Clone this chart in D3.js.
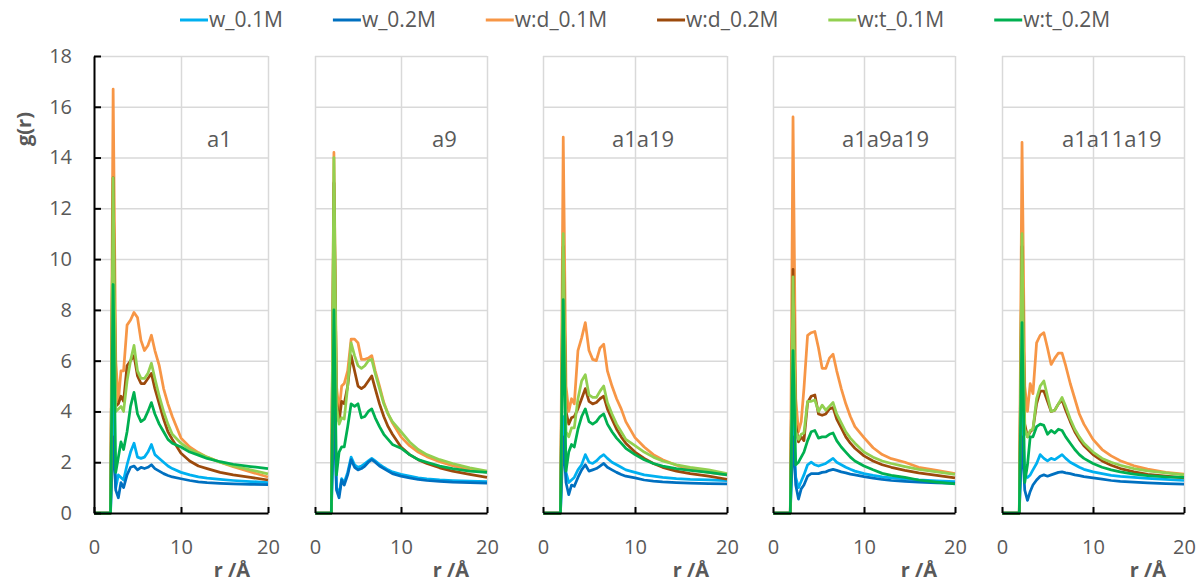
<!DOCTYPE html>
<html>
<head>
<meta charset="utf-8">
<script src="https://cdn.jsdelivr.net/npm/d3@7/dist/d3.min.js"></script>
<style>
  body { margin: 0; background: #fff; }
  text { font-family: "Open Sans", sans-serif; fill: #595959; }
</style>
</head>
<body>
<svg id="chart" width="1198" height="584"></svg>
<script>
// r grid shared by every curve (Å)
const rValues = [0, 1.9, 2.2, 2.5, 2.8, 3.1, 3.4, 3.8, 4.2, 4.6, 5.0, 5.4, 5.8, 6.2, 6.6, 7.0, 7.5, 8.0, 8.5, 9.0, 10, 11, 12, 13, 14.5, 16, 18, 20];

const panelNames = ["a1", "a9", "a1a19", "a1a9a19", "a1a11a19"];
const seriesNames = ["w_0.1M", "w_0.2M", "w:d_0.1M", "w:d_0.2M", "w:t_0.1M", "w:t_0.2M"];
const yTicks = [0, 2, 4, 6, 8, 10, 12, 14, 16, 18];
const xTicks = [0, 10, 20];

// g(r), one row per panel (a1, a9, a1a19, a1a9a19, a1a11a19)
const w01 = [
  [0, 0, 5.0, 1.0, 1.5, 1.4, 1.3, 1.9, 2.4, 2.75, 2.2, 2.15, 2.2, 2.4, 2.7, 2.3, 2.15, 2.0, 1.85, 1.75, 1.6, 1.5, 1.42, 1.37, 1.32, 1.28, 1.24, 1.2],
  [0, 0, 5.5, 1.0, 0.75, 1.35, 1.2, 1.6, 2.2, 1.9, 1.8, 1.85, 1.95, 2.05, 2.15, 2.05, 1.92, 1.8, 1.7, 1.62, 1.52, 1.45, 1.38, 1.34, 1.3, 1.28, 1.26, 1.24],
  [0, 0, 3.8, 1.6, 1.2, 1.3, 1.4, 1.7, 1.9, 2.3, 2.0, 1.95, 2.05, 2.2, 2.3, 2.15, 2.0, 1.9, 1.8, 1.7, 1.6, 1.5, 1.45, 1.4, 1.35, 1.32, 1.3, 1.28],
  [0, 0, 4.0, 1.4, 1.0, 1.25, 1.5, 1.9, 2.0, 1.9, 1.85, 1.9, 1.95, 2.05, 2.15, 2.0, 1.9, 1.8, 1.72, 1.65, 1.55, 1.48, 1.42, 1.38, 1.34, 1.3, 1.27, 1.24],
  [0, 0, 4.0, 1.5, 1.4, 1.5, 1.7, 1.95, 2.3, 2.15, 2.05, 2.15, 2.1, 2.2, 2.3, 2.15, 2.0, 1.9, 1.8, 1.72, 1.62, 1.55, 1.48, 1.44, 1.4, 1.36, 1.32, 1.28]
];
const w02 = [
  [0, 0, 3.0, 0.9, 0.6, 1.2, 1.0, 1.5, 1.8, 1.85, 1.7, 1.8, 1.75, 1.8, 1.9, 1.75, 1.65, 1.55, 1.48, 1.42, 1.35, 1.28, 1.23, 1.2, 1.17, 1.15, 1.13, 1.12],
  [0, 0, 4.0, 0.9, 0.6, 1.3, 1.1, 1.5, 2.1, 1.8, 1.7, 1.75, 1.85, 2.0, 2.1, 2.0, 1.85, 1.75, 1.65, 1.55, 1.45, 1.38, 1.32, 1.28, 1.25, 1.22, 1.2, 1.18],
  [0, 0, 3.0, 1.2, 0.72, 1.1, 1.05, 1.4, 1.7, 1.9, 1.65, 1.7, 1.75, 1.85, 1.95, 1.8, 1.7, 1.6, 1.52, 1.45, 1.38, 1.3, 1.26, 1.23, 1.2, 1.18, 1.16, 1.15],
  [0, 0, 3.0, 1.1, 0.55, 0.95, 1.1, 1.45, 1.55, 1.55, 1.55, 1.6, 1.62, 1.68, 1.72, 1.68, 1.62, 1.58, 1.53, 1.5, 1.43, 1.37, 1.32, 1.28, 1.25, 1.22, 1.19, 1.17],
  [0, 0, 3.0, 0.9, 0.5, 0.85, 1.1, 1.3, 1.45, 1.5, 1.45, 1.5, 1.55, 1.6, 1.62, 1.58, 1.55, 1.5, 1.47, 1.43, 1.38, 1.33, 1.28, 1.25, 1.22, 1.19, 1.16, 1.14]
];
const wd01 = [
  [0, 0, 16.7, 6.0, 4.4, 5.6, 5.6, 7.4, 7.6, 7.9, 7.7, 6.8, 6.4, 6.6, 7.0, 6.4, 5.8, 4.9, 4.3, 3.8, 2.95, 2.6, 2.38, 2.2, 2.0, 1.82, 1.62, 1.42],
  [0, 0, 14.2, 5.0, 4.0, 5.0, 5.1, 5.6, 6.85, 6.85, 6.7, 6.05, 6.05, 6.1, 6.2, 5.6, 5.0, 4.35, 3.9, 3.55, 3.0, 2.65, 2.4, 2.22, 2.02, 1.86, 1.72, 1.6],
  [0, 0, 14.8, 5.0, 4.0, 4.5, 4.3, 6.4, 6.9, 7.5, 6.4, 6.05, 6.0, 6.5, 6.65, 5.6, 5.0, 4.5, 4.1, 3.6, 2.97, 2.6, 2.3, 2.1, 1.88, 1.72, 1.6, 1.5],
  [0, 0, 15.6, 4.5, 3.2, 3.6, 4.9, 7.0, 7.1, 7.15, 6.5, 5.7, 5.7, 6.1, 6.25, 5.6, 4.9, 4.3, 3.8, 3.4, 2.97, 2.57, 2.3, 2.14, 2.0, 1.8, 1.68, 1.55],
  [0, 0, 14.6, 5.0, 4.0, 5.1, 4.7, 6.7, 7.0, 7.1, 6.5, 5.85, 6.1, 6.3, 6.3, 5.8, 5.1, 4.5, 3.9, 3.5, 2.9, 2.5, 2.25, 2.06, 1.86, 1.73, 1.6, 1.53]
];
const wd02 = [
  [0, 0, 13.2, 4.2, 4.3, 4.6, 4.4, 5.8, 6.0, 6.2, 5.4, 5.1, 5.1, 5.3, 5.5, 4.9, 4.3, 3.7, 3.2, 2.9, 2.35, 2.05, 1.85, 1.75, 1.6, 1.5, 1.4, 1.3],
  [0, 0, 13.0, 4.4, 3.6, 4.4, 4.3, 5.0, 6.2, 5.6, 5.0, 4.9, 5.0, 5.2, 5.4, 4.9, 4.3, 3.8, 3.4, 3.1, 2.6, 2.3, 2.1, 1.95, 1.78, 1.65, 1.52, 1.4],
  [0, 0, 10.5, 4.0, 3.5, 3.75, 3.8, 4.1, 4.5, 4.9, 4.4, 4.3, 4.35, 4.5, 4.6, 4.1, 3.7, 3.3, 3.0, 2.75, 2.4, 2.15, 1.95, 1.8, 1.65, 1.55, 1.45, 1.33],
  [0, 0, 9.6, 3.5, 2.8, 3.0, 2.85, 4.35, 4.6, 4.65, 3.9, 3.85, 3.9, 4.1, 4.15, 3.7, 3.35, 3.0, 2.75, 2.55, 2.25, 2.05, 1.9, 1.8, 1.68, 1.58, 1.48, 1.38],
  [0, 0, 10.5, 3.5, 3.0, 3.2, 3.3, 4.3, 4.8, 4.8, 4.4, 4.0, 4.05, 4.3, 4.45, 4.05, 3.6, 3.2, 2.9, 2.65, 2.3, 2.05, 1.88, 1.75, 1.62, 1.52, 1.45, 1.38]
];
const wt01 = [
  [0, 0, 13.2, 4.0, 4.1, 4.2, 4.0, 5.2, 6.0, 6.6, 5.6, 5.3, 5.3, 5.5, 5.9, 5.3, 4.6, 4.0, 3.5, 3.1, 2.75, 2.5, 2.35, 2.2, 2.0, 1.85, 1.7, 1.54],
  [0, 0, 14.0, 4.2, 3.5, 3.75, 3.7, 5.0, 6.7, 6.2, 5.8, 5.7, 5.8, 6.0, 6.05, 5.5, 4.9, 4.3, 3.9, 3.6, 3.2, 2.8, 2.5, 2.3, 2.1, 1.95, 1.78, 1.65],
  [0, 0, 11.0, 3.2, 3.0, 3.35, 3.35, 4.5, 5.2, 5.45, 4.65, 4.55, 4.55, 4.8, 5.0, 4.35, 3.9, 3.5, 3.2, 2.9, 2.65, 2.4, 2.2, 2.05, 1.9, 1.8, 1.7, 1.55],
  [0, 0, 9.3, 3.2, 2.9, 3.1, 3.15, 4.4, 4.4, 4.45, 4.0, 4.25, 4.05, 4.2, 4.35, 3.9, 3.55, 3.2, 2.95, 2.75, 2.4, 2.2, 2.05, 1.95, 1.83, 1.72, 1.62, 1.52],
  [0, 0, 11.0, 3.3, 3.0, 3.25, 3.3, 4.5, 5.0, 5.2, 4.6, 4.0, 4.05, 4.3, 4.55, 4.2, 3.7, 3.3, 3.0, 2.75, 2.4, 2.15, 2.0, 1.88, 1.75, 1.66, 1.58, 1.5]
];
const wt02 = [
  [0, 0, 9.0, 1.6, 2.2, 2.8, 2.5, 3.2, 4.2, 4.75, 3.9, 3.6, 3.7, 4.0, 4.35, 3.9, 3.5, 3.2, 2.9, 2.75, 2.6, 2.4, 2.28, 2.15, 2.02, 1.92, 1.83, 1.75],
  [0, 0, 8.0, 1.5, 2.4, 2.6, 2.6, 3.4, 4.3, 4.2, 4.3, 3.75, 3.8, 4.0, 4.1, 3.75, 3.4, 3.1, 2.9, 2.7, 2.55, 2.3, 2.1, 2.0, 1.85, 1.75, 1.65, 1.6],
  [0, 0, 8.4, 1.65, 2.4, 2.7, 2.6, 3.3, 3.8, 4.1, 3.6, 3.5, 3.6, 3.8, 3.9, 3.5, 3.2, 2.95, 2.75, 2.55, 2.3, 2.1, 1.95, 1.85, 1.75, 1.68, 1.6, 1.5],
  [0, 0, 6.4, 1.9, 2.0, 2.2, 2.4, 2.85, 3.2, 3.25, 2.95, 3.0, 3.0, 3.1, 3.15, 2.85, 2.6, 2.4, 2.2, 2.05, 1.85, 1.7, 1.56, 1.48, 1.4, 1.3, 1.22, 1.15],
  [0, 0, 7.5, 1.2, 1.9, 3.0, 3.0, 3.4, 3.5, 3.45, 3.1, 3.25, 3.15, 3.3, 3.25, 3.0, 2.75, 2.5, 2.3, 2.15, 1.95, 1.8, 1.7, 1.62, 1.53, 1.47, 1.42, 1.4]
];
const seriesData = [w01, w02, wd01, wd02, wt01, wt02];

// layout
const colors = ["#00b0f0", "#0070c0", "#f79646", "#9c4a0c", "#92d050", "#00b050"];
const panelX = [[94, 268], [315, 487], [543, 727], [773, 955], [1002, 1184]];
const labelX = [207, 432, 612, 842, 1062];
const plotTop = 56, plotBottom = 513;

const svg = d3.select("#chart");

panelX.forEach((px, p) => {
  const x = d3.scaleLinear().domain([0, 20]).range(px);
  const y = d3.scaleLinear().domain([0, 18]).range([plotBottom, plotTop]);
  const g = svg.append("g");

  // horizontal gridlines
  g.append("g")
    .attr("transform", `translate(${px[0]},0)`)
    .call(d3.axisLeft(y).tickValues(yTicks.slice(1)).tickSize(-(px[1] - px[0])).tickFormat(""))
    .call(s => s.select(".domain").remove())
    .call(s => s.selectAll("line").attr("stroke", "#d9d9d9").attr("stroke-width", 1.5));

  // vertical gridlines
  g.append("g")
    .attr("transform", `translate(0,${plotBottom})`)
    .call(d3.axisBottom(x).tickValues(p === 0 ? [10, 20] : xTicks).tickSize(-(plotBottom - plotTop)).tickFormat(""))
    .call(s => s.select(".domain").remove())
    .call(s => s.selectAll("line").attr("stroke", "#d9d9d9").attr("stroke-width", 1.5));

  // curves
  const line = d3.line().x((d, i) => x(rValues[i])).y(d => y(d));
  seriesData.forEach((s, k) => {
    g.append("path")
      .datum(s[p])
      .attr("d", line)
      .attr("fill", "none")
      .attr("stroke", colors[k])
      .attr("stroke-width", 2.75)
      .attr("stroke-linejoin", "round");
  });

  // x axis
  g.append("g")
    .attr("transform", `translate(0,${plotBottom})`)
    .call(d3.axisBottom(x).tickValues(xTicks).tickSize(-6).tickSizeOuter(0).tickPadding(27))
    .call(s => s.select(".domain").attr("stroke", "#000").attr("stroke-width", 2))
    .call(s => s.selectAll("line").attr("stroke", "#000").attr("stroke-width", 2))
    .call(s => s.selectAll("text").attr("font-size", 20).attr("fill", "#595959").attr("font-family", "Open Sans"));

  // y axis on first panel only
  if (p === 0) {
    g.append("g")
      .attr("transform", `translate(${px[0]},0)`)
      .call(d3.axisLeft(y).tickValues(yTicks).tickSize(-7).tickSizeOuter(0).tickPadding(22))
      .call(s => s.select(".domain").attr("stroke", "#000").attr("stroke-width", 2))
      .call(s => s.selectAll("line").attr("stroke", "#000").attr("stroke-width", 2))
      .call(s => s.selectAll("text").attr("font-size", 20).attr("fill", "#595959").attr("font-family", "Open Sans"));
  }

  // panel name
  g.append("text")
    .attr("x", labelX[p])
    .attr("y", y(14.7))
    .attr("dy", "0.35em")
    .attr("font-size", 22)
    .text(panelNames[p]);

  // x title
  g.append("text")
    .attr("x", px[1] - 36)
    .attr("y", 577)
    .attr("text-anchor", "middle")
    .attr("font-size", 20)
    .attr("font-weight", "bold")
    .text("r /Å");
});

// y title
svg.append("text")
  .attr("transform", "translate(31,129) rotate(-90)")
  .attr("text-anchor", "middle")
  .attr("font-size", 20)
  .attr("font-weight", "bold")
  .text("g(r)");

// legend
const legend = svg.append("g").attr("transform", "translate(180,20)");
let lx = 0;
seriesNames.forEach((name, k) => {
  const item = legend.append("g").attr("transform", `translate(${lx},0)`);
  item.append("line").attr("x1", 0).attr("x2", 28).attr("stroke", colors[k]).attr("stroke-width", 3);
  const t = item.append("text").attr("x", 29).attr("dy", "0.35em").attr("font-size", 21).attr("fill", "#404040").text(name);
  lx += 29 + t.node().getComputedTextLength() + 50;
});
</script>
</body>
</html>
